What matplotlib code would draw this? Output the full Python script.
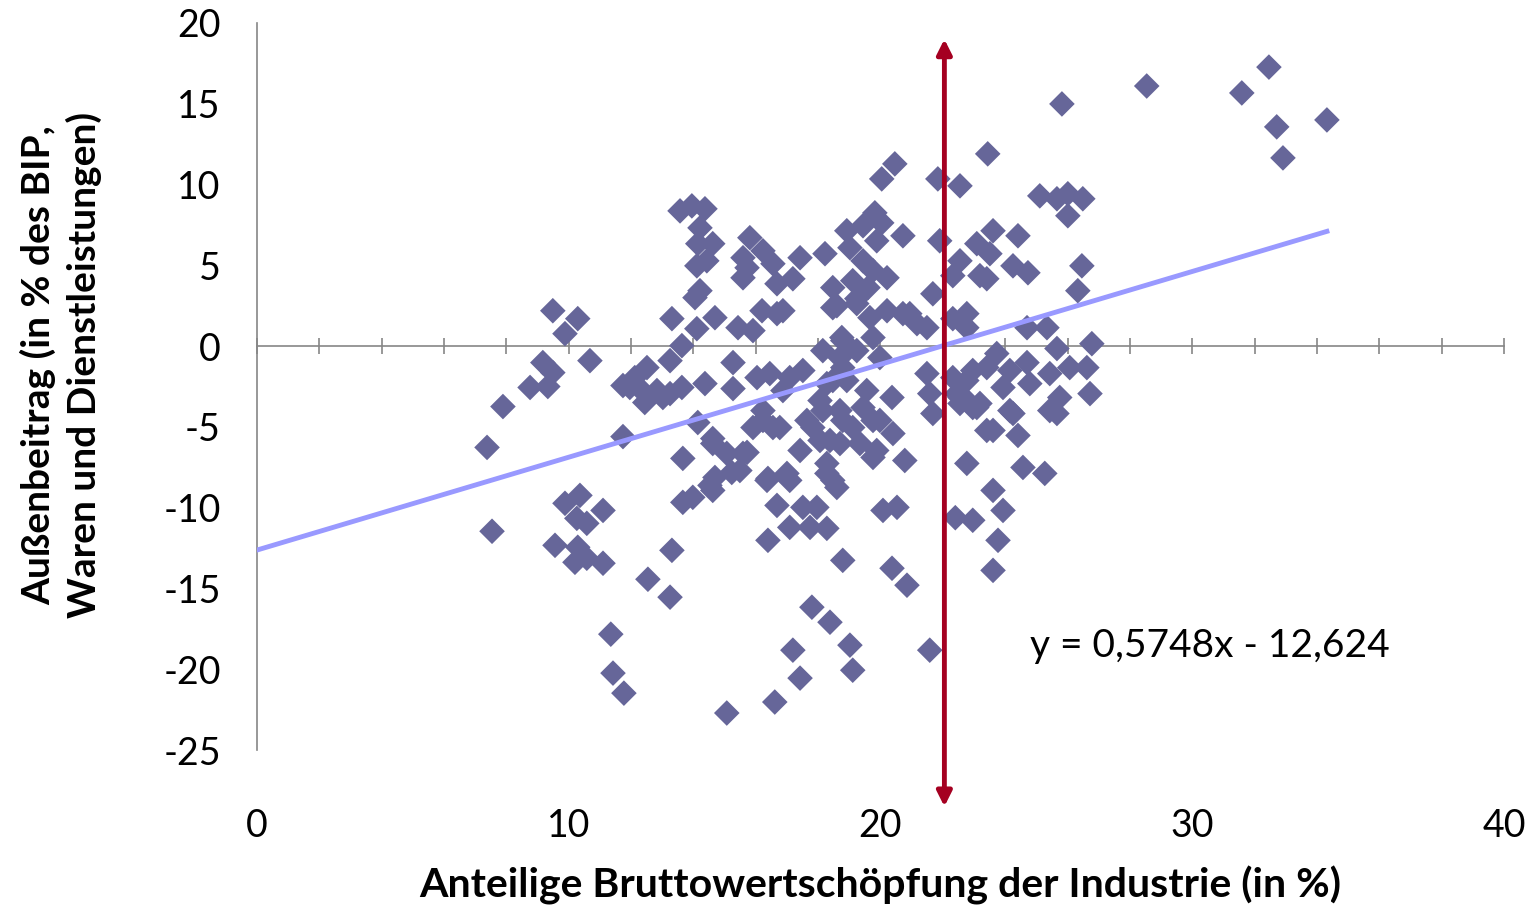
import numpy as np
import matplotlib
matplotlib.use('Agg')
from matplotlib import pyplot as plt

plt.rcParams['font.family'] = ['Lato', 'DejaVu Sans']
plt.rcParams['axes.unicode_minus'] = False

# Anteilige Bruttowertschöpfung der Industrie (in %)
x_ind = [
    7.38, 7.54, 7.89, 8.76, 9.17, 9.49, 9.33, 9.49, 10.29, 9.88, 10.68,
    10.36, 9.88, 11.10, 10.26, 10.58, 9.56, 10.29, 10.20, 10.58, 11.10, 13.31, 12.54, 13.25,
    11.35, 11.42, 11.77, 15.07, 11.74,
    13.66, 13.66, 13.98, 14.53, 14.69, 15.23, 15.72, 14.62, 14.62,
    13.57, 13.95, 14.37, 14.21, 14.14, 14.62, 14.43, 14.11, 15.81, 15.59, 15.59, 14.05, 14.21,
    13.31, 14.11, 14.69, 15.43, 15.91, 13.63, 13.25, 15.27, 16.04,
    12.12, 12.51, 12.35, 12.83, 13.25, 13.63, 14.37, 15.27, 12.44, 11.74,
    14.14, 14.62, 15.07, 15.91,
    16.20, 16.68, 11.96, 13.02, 16.23, 16.55, 15.59, 16.36,
    20.46, 20.04, 21.84, 22.55, 23.44,
    19.82, 19.44, 20.04, 18.92, 20.72, 19.88, 19.02, 21.90,
    16.23, 15.72, 16.55, 17.42, 18.22, 17.19, 16.68, 19.44, 19.76, 20.21, 19.11, 18.47, 19.60,
    19.24, 18.60, 21.68, 22.55, 22.32, 23.19,
    16.87, 19.66, 20.21, 20.72, 21.17, 19.76, 22.32, 22.77,
    18.76, 18.15, 18.70, 19.24, 19.98, 16.45, 17.09, 17.51, 16.87, 18.28, 18.92, 20.37, 21.49,
    21.58, 22.32, 22.96, 23.19, 22.55,
    18.47, 19.24, 20.94, 21.49, 18.79, 18.79, 18.47, 19.56, 21.68, 22.45, 22.77,
    18.06, 18.70, 17.83, 18.38, 19.11, 19.76, 20.40, 19.88, 20.78, 18.28, 18.60, 22.77,
    16.39, 16.68, 17.51, 17.96, 17.09, 17.74, 18.28, 16.39, 18.79, 20.37, 20.85, 20.53, 20.08,
    17.80, 18.38, 17.19, 19.02, 19.11, 17.42, 16.61, 21.58,
    19.76, 18.47, 17.09, 15.49, 22.40, 22.96, 23.61, 22.55, 22.96,
    16.23, 16.77, 17.64, 18.15, 18.79, 19.44, 19.98, 17.42, 18.06, 18.70, 19.34, 18.28, 17.00,
    25.11, 25.66, 26.01, 26.49, 26.01,
    23.61, 23.09, 23.51, 24.41, 23.41, 24.25, 24.73, 26.46, 26.33,
    22.77, 24.70, 25.34,
    26.78, 25.66, 23.73, 24.70, 25.43, 24.15, 23.41, 23.93, 24.79, 26.07, 26.62, 26.72, 25.75,
    23.09, 24.15, 25.43, 22.77,
    23.41, 24.25, 24.41, 25.66, 23.61, 24.57, 25.27, 23.93, 23.77, 23.61,
    25.82, 28.54, 31.59, 32.46, 32.71, 34.32, 32.91,
]

# Außenbeitrag (in % des BIP, Waren und Dienstleistungen)
y_ab = [
    -6.27, -11.46, -3.74, -2.56, -1.02, -1.64, -2.50, 2.19, 1.70, 0.77, -0.90,
    -9.24, -9.73, -10.17, -10.66, -10.97, -12.33, -12.45, -13.38, -13.13, -13.44, -12.64, -14.43, -15.54,
    -17.83, -20.24, -21.48, -22.71, -5.60,
    -6.95, -9.67, -9.36, -8.62, -8.13, -7.82, -6.58, -6.03, -8.93,
    8.37, 8.68, 8.50, 7.32, 6.34, 6.34, 5.28, 4.97, 6.71, 5.47, 4.23, 3.00, 3.43,
    1.70, 1.08, 1.76, 1.14, 0.96, 0.03, -0.90, -1.02, -1.95,
    -1.95, -1.33, -2.75, -2.75, -2.94, -2.56, -2.32, -2.63, -3.49, -2.44,
    -4.73, -5.72, -6.64, -5.04,
    2.19, 2.01, -2.56, -3.18, -3.99, -5.04, -6.64, -8.31,
    11.28, 10.35, 10.35, 9.92, 11.90,
    8.25, 7.45, 7.63, 7.14, 6.83, 6.52, 6.09, 6.52,
    5.90, 4.85, 5.10, 5.47, 5.72, 4.17, 3.86, 5.28, 4.67, 4.23, 4.05, 3.62, 3.62,
    2.94, 2.50, 3.24, 5.28, 4.36, 4.36,
    2.19, 1.76, 2.19, 2.01, 1.39, 0.53, 1.70, 2.01,
    0.53, -0.28, -0.71, -0.28, -0.71, -1.70, -1.95, -1.51, -2.75, -2.32, -2.13, -3.18, -1.70,
    -2.94, -1.95, -1.51, -3.55, -3.18,
    2.38, 2.63, 2.01, 1.14, 0.34, -1.33, -2.13, -2.75, -4.17, -2.94, -3.37,
    -3.37, -3.99, -5.04, -5.84, -5.04, -4.60, -5.41, -6.46, -7.08, -7.26, -8.75, -7.26,
    -8.19, -9.86, -9.98, -9.98, -11.22, -11.22, -11.28, -12.02, -13.26, -13.75, -14.80, -9.98, -10.17,
    -16.16, -17.09, -18.82, -18.51, -20.06, -20.55, -22.03, -18.82,
    -6.89, -8.31, -8.31, -7.70, -10.62, -10.78, -5.22, -3.55, -3.80,
    -4.60, -5.04, -4.60, -3.99, -4.60, -3.80, -4.60, -6.46, -5.84, -6.03, -6.03, -7.88, -7.88,
    9.30, 9.12, 9.43, 9.12, 8.07,
    7.14, 6.34, 5.72, 6.83, 4.17, 4.97, 4.54, 4.97, 3.43,
    1.14, 1.14, 1.14,
    0.15, -0.15, -0.46, -1.02, -1.70, -1.51, -1.33, -2.56, -2.32, -1.33, -1.33, -2.94, -3.18,
    -3.80, -3.99, -3.99, -2.13,
    -5.22, -4.17, -5.53, -4.17, -8.93, -7.51, -7.88, -10.17, -12.02, -13.88,
    14.99, 16.10, 15.67, 17.27, 13.57, 14.00, 11.65,
]

# Trendlinie laut Gleichung im Diagramm
slope = 0.5748
intercept = -12.624
threshold = 22.05  # senkrechter Pfeil
arrow_top, arrow_bottom = 19.0, -28.5

x_ticks = [0, 10, 20, 30, 40]
y_ticks = [20, 15, 10, 5, 0, -5, -10, -15, -20, -25]

fig = plt.figure(figsize=(15.35, 9.09), dpi=100)
ax = fig.add_axes([0.1674, 0.1749, 0.8124, 0.7998])

# Punktwolke
ax.scatter(x_ind, y_ab, marker='D', s=170, color='#666699', edgecolors='none', zorder=3)

# lineare Trendlinie
xt = np.array([0, max(x_ind)])
ax.plot(xt, slope * xt + intercept, color='#9999FF', lw=3.5, zorder=4)

# roter Doppelpfeil
ax.annotate('', xy=(threshold, arrow_bottom), xytext=(threshold, arrow_top),
            arrowprops=dict(arrowstyle='<|-|>', color='#A50021', lw=3.5,
                            mutation_scale=22, shrinkA=0, shrinkB=0),
            annotation_clip=False, zorder=5)

ax.text(24.8, -18.55, 'y = 0,5748x - 12,624', fontsize=28, va='center', ha='left')

ax.set_xlim(0, 40)
ax.set_ylim(-25, 20)

for s in ['top', 'right', 'bottom']:
    ax.spines[s].set_visible(False)
ax.spines['left'].set_color('#868686')
ax.spines['left'].set_linewidth(1.2)

ax.set_xticks(x_ticks)
ax.set_yticks(y_ticks)
ax.tick_params(axis='x', length=0, pad=42, labelsize=27)
ax.tick_params(axis='y', length=0, pad=26, labelsize=27)

# x-Achse bei y = 0 mit Teilstrichen
sec = ax.secondary_xaxis(25 / 45)
sec.set_xticks(np.arange(0, 41, 2))
sec.tick_params(direction='inout', length=12, width=1.2, color='#868686', labelbottom=False, labeltop=False)
sec.spines['bottom'].set_color('#868686')
sec.spines['top'].set_color('#868686')
sec.spines['bottom'].set_linewidth(1.2)
sec.spines['top'].set_linewidth(1.2)

ax.set_xlabel('Anteilige Bruttowertschöpfung der Industrie (in %)', fontsize=29.5,
              fontweight='bold', va='center')
ax.xaxis.set_label_coords(0.5, -0.186)
ax.set_ylabel('Außenbeitrag (in % des BIP,\nWaren und Dienstleistungen)', fontsize=28,
              fontweight='bold', va='center', linespacing=1.3)
ax.yaxis.set_label_coords(-0.157, 0.53)

plt.savefig('out.png', dpi=100)
